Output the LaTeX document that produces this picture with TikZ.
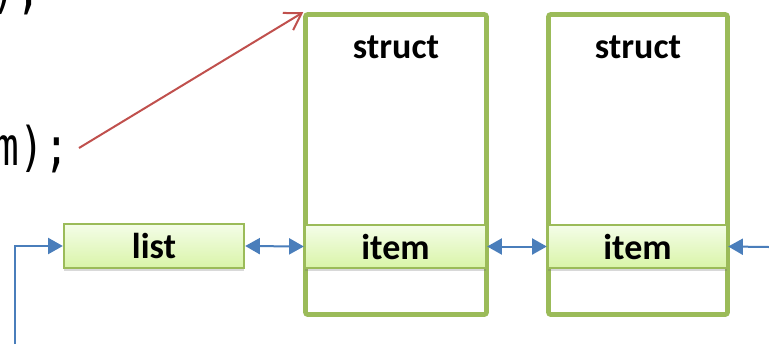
\documentclass[tikz,border=0pt]{standalone}
\usepackage{fontspec}
\newfontfamily\calib{Carlito}
\newfontfamily\codefont[FakeStretch=0.77]{DejaVu Sans Mono}
\usetikzlibrary{arrows.meta,shadows,calc}
\definecolor{boxgreen}{HTML}{9BBB59}
\definecolor{filltop}{HTML}{F4FDE8}
\definecolor{fillbot}{HTML}{D9F4A8}
\definecolor{linkblue}{HTML}{4A7EBB}
\definecolor{ptrred}{HTML}{C0504D}
\tikzset{
  structbox/.style={draw=boxgreen, line width=3.4pt, fill=white, rounded corners=1.5pt, inner sep=0pt},
  fieldbox/.style={draw=boxgreen, line width=1.8pt, top color=filltop, bottom color=fillbot,
    inner sep=0pt, font=\calib\bfseries\fontsize{27}{32}\selectfont,
    drop shadow={shadow xshift=0pt, shadow yshift=-2.5pt, opacity=0.25, fill=black!60}},
  boxtitle/.style={font=\calib\bfseries\fontsize{27}{32}\selectfont, inner sep=0pt, anchor=base},
  codetext/.style={font=\codefont\fontsize{40}{48}\selectfont, inner sep=0pt, anchor=base east},
  link/.style={draw=linkblue, line width=1.5pt, >={Triangle[length=11pt, width=12pt]}},
  ptr/.style={draw=ptrred, line width=1.5pt, -{Straight Barb[length=12pt, width=15pt, line width=1.5pt]}}
}
\begin{document}
\begin{tikzpicture}[x=0.75pt, y=-0.75pt]
\useasboundingbox (0,0) rectangle (769,344);
% code lines
\node[codetext] (c1) at (41,7) {);};
\node[codetext] (c2) at (69,165) {m);};
% struct boxes
\node[structbox, minimum width=181*0.75pt, minimum height=300*0.75pt] (s1) at (396,164.5) {};
\node[structbox, minimum width=179*0.75pt, minimum height=300*0.75pt] (s2) at (638,164.5) {};
\node[boxtitle] (t1) at (396,58) {struct};
\node[boxtitle] (t2) at (638,58) {struct};
% field boxes
\node[fieldbox, minimum width=180*0.75pt, minimum height=44*0.75pt] (list) at (154,246) {list};
\node[fieldbox, minimum width=181*0.75pt, minimum height=43*0.75pt] (i1) at (395.5,246.5) {item};
\node[fieldbox, minimum width=179*0.75pt, minimum height=43*0.75pt] (i2) at (637.5,246.5) {item};
% links
\coordinate (inR) at (769,247);
\coordinate (inL) at (15,344);
\draw[link, <->] (list.east) -- (i1.west);
\draw[link, <->] (i1.east) -- (i2.west);
\draw[link, ->] (inR) -- (i2.east);
\draw[link, ->] (inL) |- (list.west);
% pointer
\coordinate (pstart) at (79,148);
\draw[ptr] (pstart) -- (s1.north west);
\end{tikzpicture}
\end{document}
